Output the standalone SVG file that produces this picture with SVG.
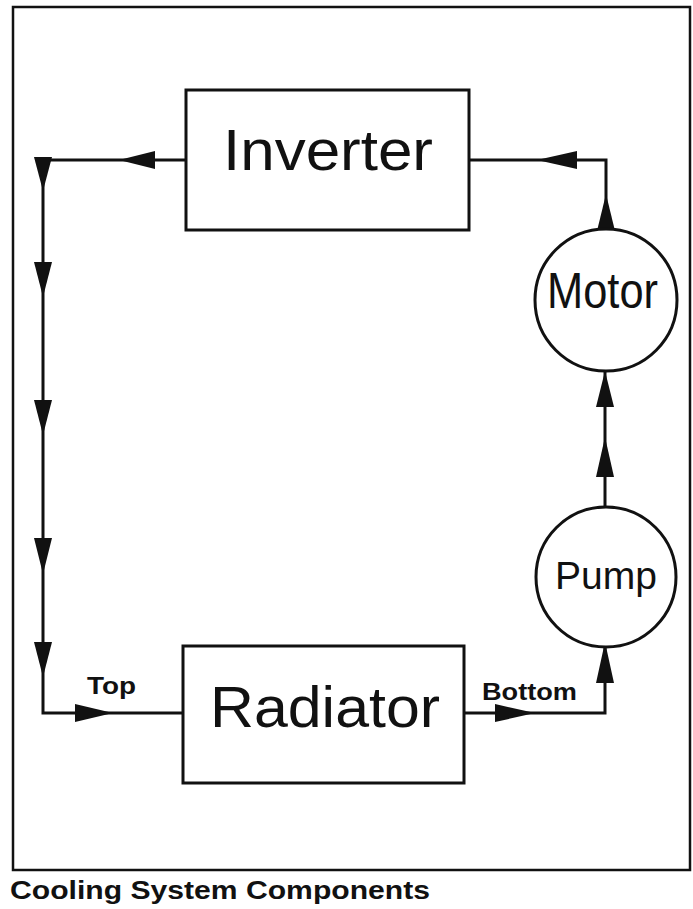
<svg xmlns="http://www.w3.org/2000/svg" width="693" height="909" viewBox="0 0 693 909">
<style>
.frame{fill:none;stroke:#111;stroke-width:2.5}
.box{fill:#fff;stroke:#111;stroke-width:3}
.pipe{fill:none;stroke:#111;stroke-width:3}
.ah{fill:#111;stroke:none}
.big{font-family:"Liberation Sans",Arial,sans-serif;fill:#111}
.lbl{font-family:"Liberation Sans",Arial,sans-serif;font-weight:bold;fill:#111}
</style>
<rect width="693" height="909" fill="#fff"/>
<rect class="frame" x="13" y="7" width="677" height="863"/>
<g id="connectors">
<polyline class="pipe" points="185,160 43,160 43,713 183,713"/>
<polyline class="pipe" points="464,713 605,713 605,647"/>
<line class="pipe" x1="605" y1="507" x2="605" y2="371"/>
<polyline class="pipe" points="606,229 606,160 470,160"/>
<polygon class="ah" points="119,160 155,151 155,169"/>
<polygon class="ah" points="34,157 52,157 43,191"/>
<polygon class="ah" points="34,262 52,262 43,297"/>
<polygon class="ah" points="34,400 52,400 43,435"/>
<polygon class="ah" points="34,538 52,538 43,574"/>
<polygon class="ah" points="34,642 52,642 43,677"/>
<polygon class="ah" points="75,704 75,722 113,713"/>
<polygon class="ah" points="495,704 495,722 535,713"/>
<polygon class="ah" points="605,642 596,683 614,683"/>
<polygon class="ah" points="605,371 596,407 614,407"/>
<polygon class="ah" points="605,437 596,477 614,477"/>
<polygon class="ah" points="606,194 597,231 615,231"/>
<polygon class="ah" points="537,160 577,151 577,169"/>
</g>
<g id="inverter">
<rect class="box" x="186" y="90" width="283" height="140"/>
<text class="big" x="223" y="170" font-size="58" textLength="210" lengthAdjust="spacingAndGlyphs">Inverter</text>
</g>
<g id="radiator">
<rect class="box" x="183" y="646" width="281" height="137"/>
<text class="big" x="210" y="727" font-size="58" textLength="230" lengthAdjust="spacingAndGlyphs">Radiator</text>
</g>
<g id="motor">
<circle class="box" cx="606" cy="300" r="71"/>
<text class="big" x="547" y="308" font-size="50" textLength="111" lengthAdjust="spacingAndGlyphs">Motor</text>
</g>
<g id="pump">
<circle class="box" cx="606" cy="577" r="70"/>
<text class="big" x="555" y="589" font-size="38" textLength="102" lengthAdjust="spacingAndGlyphs">Pump</text>
</g>
<g id="labels">
<text class="lbl" x="87" y="694" font-size="24" textLength="49" lengthAdjust="spacingAndGlyphs">Top</text>
<text class="lbl" x="482" y="700" font-size="24" textLength="95" lengthAdjust="spacingAndGlyphs">Bottom</text>
<text class="lbl" x="10" y="899" font-size="26" textLength="420" lengthAdjust="spacingAndGlyphs">Cooling System Components</text>
</g>
</svg>
